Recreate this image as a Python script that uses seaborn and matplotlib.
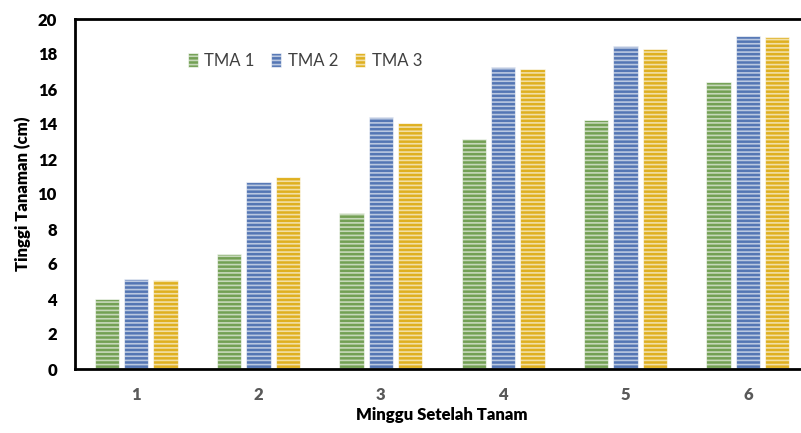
import matplotlib
matplotlib.use("Agg")
import matplotlib.pyplot as plt
import seaborn as sns
import pandas as pd

# Plant height per week after planting, for three water-level treatments
weeks = ["1", "2", "3", "4", "5", "6"]
tma1 = [4.0, 6.57, 8.9, 13.15, 14.23, 16.38]
tma2 = [5.14, 10.7, 14.42, 17.26, 18.45, 19.02]
tma3 = [5.1, 10.97, 14.07, 17.16, 18.29, 18.96]
series_names = ["TMA 1", "TMA 2", "TMA 3"]
palette = ["#70AD47", "#4472C4", "#FFC000"]

df = pd.DataFrame({
    "Minggu": weeks * 3,
    "Tinggi": tma1 + tma2 + tma3,
    "Seri": [s for s in series_names for _ in weeks],
})

sns.set_theme(style="white")
plt.rcParams["font.family"] = ["Lato", "DejaVu Sans"]
plt.rcParams["hatch.linewidth"] = 1.2

fig = plt.figure(figsize=(8.01, 4.33), dpi=100)
ax = fig.add_axes([75 / 801, 1 - 369 / 433, 734 / 801, 350 / 433])

sns.barplot(data=df, x="Minggu", y="Tinggi", hue="Seri", palette=palette,
            width=0.72, gap=0.18, ax=ax, legend=True)

# horizontal striped fill with a soft light outline
for bar in ax.patches:
    bar.set_hatch("----")
    bar.set_edgecolor((1, 1, 1, 0.6))
    bar.set_linewidth(0.8)

ax.set_ylim(0, 20)
ax.set_xlim(-0.5, 5.5)
ax.set_yticks(range(0, 21, 2))
ax.tick_params(axis="both", length=0)
ax.tick_params(axis="y", labelsize=12, pad=13, labelcolor="#000000")
ax.tick_params(axis="x", labelsize=12, pad=13, labelcolor="#595959")
for lab in ax.get_xticklabels() + ax.get_yticklabels():
    lab.set_fontweight("heavy")

ax.set_xlabel("Minggu Setelah Tanam", fontsize=12, fontweight="heavy",
              color="#000000", labelpad=3)
ax.set_ylabel("Tinggi Tanaman (cm)", fontsize=12, fontweight="heavy",
              color="#000000", labelpad=5)

for side in ["left", "bottom", "top", "right"]:
    ax.spines[side].set_visible(True)
    ax.spines[side].set_color("#000000")
    ax.spines[side].set_linewidth(2)

handles, labels = ax.get_legend_handles_labels()
ax.legend(handles, labels, loc="center", bbox_to_anchor=(305 / 801, 1 - 61 / 433),
          bbox_transform=fig.transFigure, ncol=3, frameon=False, fontsize=12,
          handlelength=0.6, handleheight=0.9, handletextpad=0.4, columnspacing=1.0,
          labelcolor="#404040")

fig.savefig("out.png", dpi=100)
